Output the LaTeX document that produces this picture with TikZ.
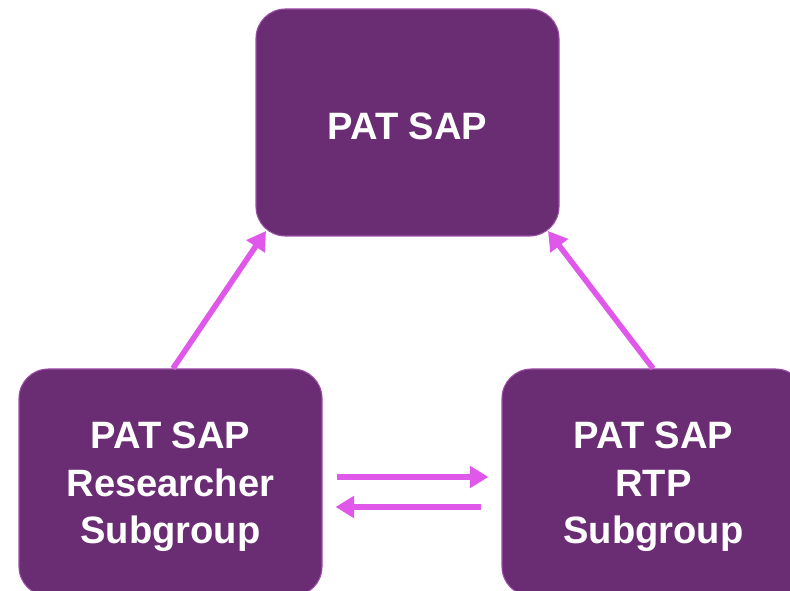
\documentclass[tikz,border=0pt]{standalone}
\usepackage{fontspec}
\setmainfont{Liberation Sans}
\usetikzlibrary{arrows.meta,calc}
\definecolor{boxfill}{HTML}{6A2C73}
\definecolor{boxline}{HTML}{9C4EA6}
\definecolor{arrcol}{HTML}{E058EA}
\begin{document}
\begin{tikzpicture}[x=0.75pt,y=-0.75pt,
  sapbox/.style={draw=boxline, line width=0.8pt, fill=boxfill, rounded corners=22pt,
    minimum width=227.25pt, minimum height=170.25pt, inner sep=0pt},
  saptext/.style={text=white, align=center, inner sep=0pt, yshift=-3.2pt,
    font=\fontsize{28.6}{35.5}\selectfont\bfseries},
  arr/.style={draw=arrcol, line width=4.2pt,
    -{Triangle[length=14pt,width=16pt]}}]
\useasboundingbox (0,0) rectangle (790,591);
\clip (0,0) rectangle (790,591);
\node[sapbox, label={[saptext]center:PAT SAP}] (top) at (407.5,122.5) {};
\node[sapbox, label={[saptext]center:PAT SAP\\Researcher\\Subgroup}] (bl) at (170.5,482.5) {};
\node[sapbox, label={[saptext]center:PAT SAP\\RTP\\Subgroup}] (br) at (653.5,482.5) {};
\coordinate (t1) at (266,231);
\coordinate (t2) at (548,231);
\draw[arr] ($(bl.north)+(2.5,0)$) -- (t1);
\draw[arr] ($(br.north)+(-0.5,0)$) -- (t2);
\draw[arr] ($(bl.east)+(14,-5.5)$) -- ($(br.west)+(-13,-5.5)$);
\draw[arr] ($(br.west)+(-20,24.5)$) -- ($(bl.east)+(13,24.5)$);
\end{tikzpicture}
\end{document}
